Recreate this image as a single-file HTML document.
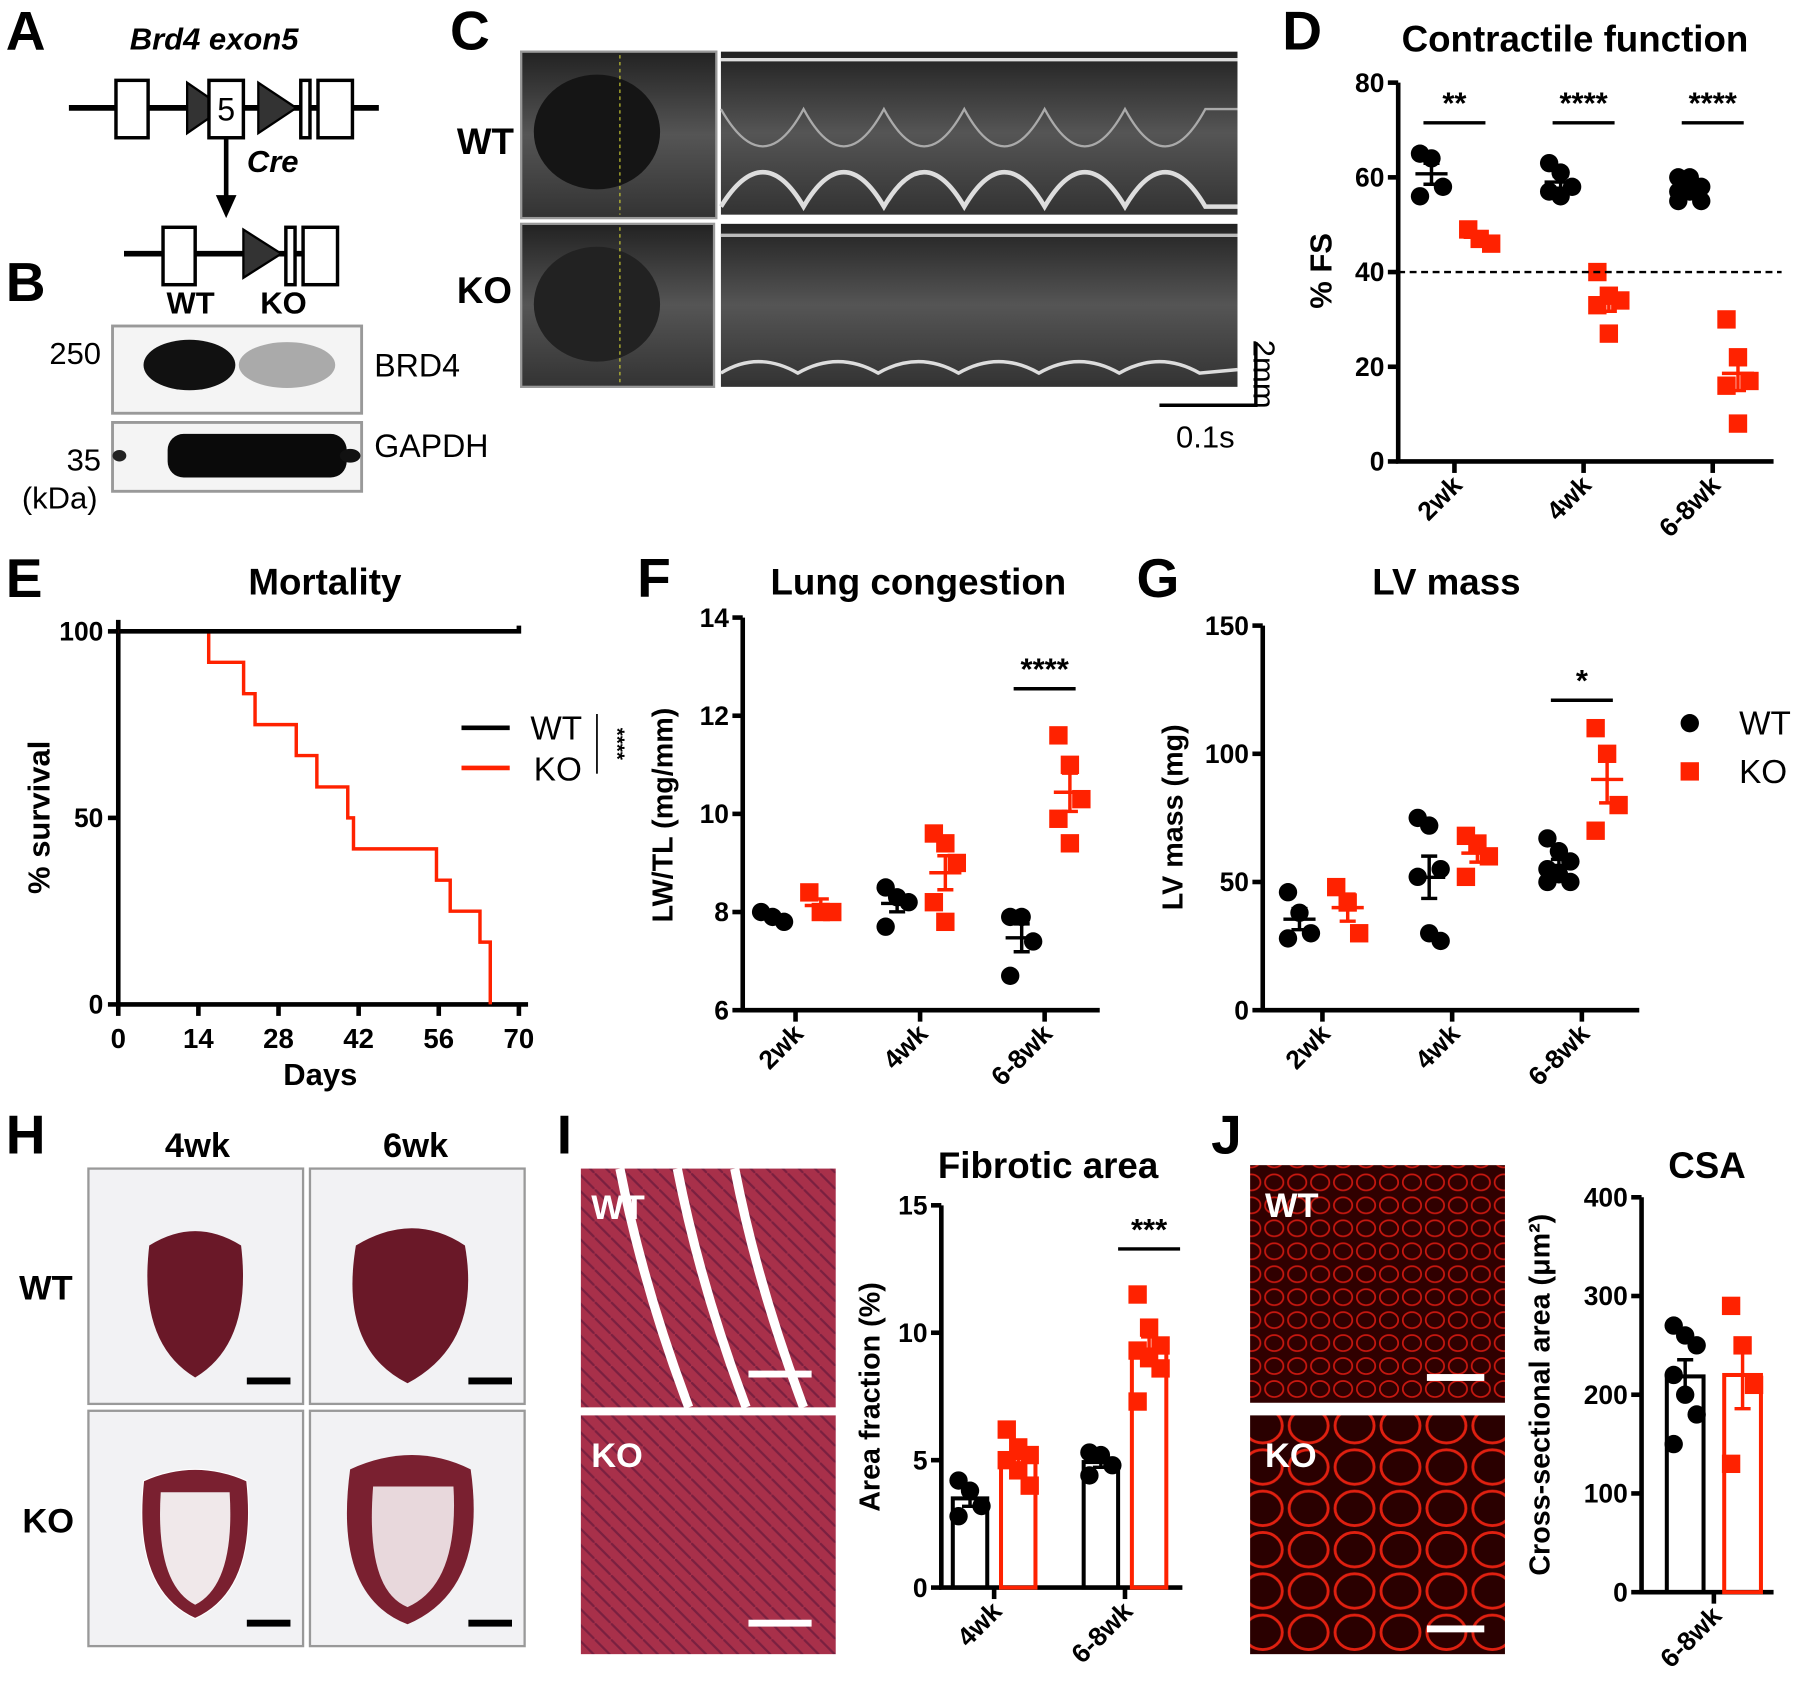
<!DOCTYPE html>
<html><head><meta charset="utf-8"><style>
html,body{margin:0;padding:0;background:#fff}
svg{display:block}
text{font-family:"Liberation Sans",Arial,sans-serif}
.b{font-weight:bold}
</style></head><body>
<svg id="fig" width="1800" height="1684" viewBox="0 0 1568 1467" xmlns="http://www.w3.org/2000/svg">
<defs>
<linearGradient id="echo" x1="0" y1="0" x2="0" y2="1"><stop offset="0" stop-color="#222"/><stop offset="0.5" stop-color="#555"/><stop offset="1" stop-color="#333"/></linearGradient>
<pattern id="musc" width="14" height="14" patternUnits="userSpaceOnUse"><rect width="14" height="14" fill="#a8304a"/><path d="M0 0 L14 14" stroke="#7a2040" stroke-width="2"/></pattern>
<pattern id="cells" width="40" height="36" patternUnits="userSpaceOnUse"><rect width="40" height="36" fill="#2a0000"/><ellipse cx="20" cy="18" rx="17" ry="15" fill="none" stroke="#e02010" stroke-width="2.5"/></pattern>
<pattern id="cells2" width="20" height="20" patternUnits="userSpaceOnUse"><rect width="20" height="20" fill="#300000"/><ellipse cx="10" cy="10" rx="8" ry="7" fill="none" stroke="#c81810" stroke-width="1.5"/></pattern>
</defs>

<!-- Panel A -->
<g>
<text x="5" y="43" font-size="48" class="b">A</text>
<text x="113" y="43" font-size="27" class="b" font-style="italic">Brd4 exon5</text>
<line x1="60" y1="94" x2="330" y2="94" stroke="#000" stroke-width="5"/>
<rect x="101" y="70" width="28" height="50" fill="#fff" stroke="#000" stroke-width="3"/>
<polygon points="163,72 195,94 163,116" fill="#333" stroke="#000" stroke-width="2"/>
<rect x="182" y="70" width="30" height="50" fill="#fff" stroke="#000" stroke-width="3"/>
<text x="197" y="105" font-size="28" text-anchor="middle">5</text>
<polygon points="225,72 258,94 225,116" fill="#333" stroke="#000" stroke-width="2"/>
<rect x="262" y="70" width="8" height="50" fill="#fff" stroke="#000" stroke-width="3"/>
<rect x="277" y="70" width="30" height="50" fill="#fff" stroke="#000" stroke-width="3"/>
<line x1="197" y1="120" x2="197" y2="175" stroke="#000" stroke-width="4"/>
<polygon points="188,170 206,170 197,190" fill="#000"/>
<text x="215" y="150" font-size="27" class="b" font-style="italic">Cre</text>
<line x1="108" y1="221" x2="292" y2="221" stroke="#000" stroke-width="5"/>
<rect x="142" y="198" width="28" height="50" fill="#fff" stroke="#000" stroke-width="3"/>
<polygon points="212,200 245,221 212,242" fill="#333" stroke="#000" stroke-width="2"/>
<rect x="249" y="198" width="8" height="50" fill="#fff" stroke="#000" stroke-width="3"/>
<rect x="264" y="198" width="30" height="50" fill="#fff" stroke="#000" stroke-width="3"/>
</g>

<!-- Panel B -->
<g>
<text x="5" y="262" font-size="48" class="b">B</text>
<text x="166" y="273" font-size="27" class="b" text-anchor="middle">WT</text>
<text x="247" y="273" font-size="27" class="b" text-anchor="middle">KO</text>
<rect x="98" y="284" width="217" height="76" fill="#f4f4f4" stroke="#999" stroke-width="2.5"/>
<ellipse cx="165" cy="318" rx="40" ry="22" fill="#111"/>
<ellipse cx="250" cy="318" rx="42" ry="20" fill="#aaa"/>
<rect x="98" y="368" width="217" height="60" fill="#f4f4f4" stroke="#999" stroke-width="2.5"/>
<rect x="146" y="378" width="156" height="38" rx="14" fill="#0a0a0a"/>
<ellipse cx="305" cy="397" rx="9" ry="6" fill="#111"/>
<ellipse cx="104" cy="397" rx="6" ry="5" fill="#222"/>
<text x="88" y="317" font-size="27" text-anchor="end">250</text>
<text x="88" y="410" font-size="27" text-anchor="end">35</text>
<text x="52" y="443" font-size="27" text-anchor="middle">(kDa)</text>
<text x="326" y="328" font-size="28">BRD4</text>
<text x="326" y="398" font-size="28">GAPDH</text>
</g>

<!-- Panel C -->
<g>
<text x="392" y="43" font-size="48" class="b">C</text>
<text x="398" y="134" font-size="32" class="b">WT</text>
<text x="398" y="264" font-size="32" class="b">KO</text>
<rect x="454" y="45" width="170" height="145" fill="url(#echo)" stroke="#999" stroke-width="2"/>
<rect x="628" y="45" width="450" height="142" fill="url(#echo)"/>
<rect x="454" y="195" width="168" height="142" fill="url(#echo)" stroke="#999" stroke-width="2"/>
<rect x="628" y="195" width="450" height="142" fill="url(#echo)"/>
<ellipse cx="520" cy="115" rx="55" ry="50" fill="#151515"/>
<ellipse cx="520" cy="265" rx="55" ry="50" fill="#222"/>
<line x1="540" y1="48" x2="540" y2="187" stroke="#cc3" stroke-width="1" stroke-dasharray="3,3"/>
<line x1="540" y1="198" x2="540" y2="335" stroke="#cc3" stroke-width="1" stroke-dasharray="3,3"/>
<path d="M628 180 Q 665 120 700 180 Q 735 120 770 180 Q 805 120 840 180 Q 875 120 910 180 Q 945 120 980 180 Q 1015 120 1050 180 L1078 180" fill="none" stroke="#ddd" stroke-width="4"/>
<path d="M628 95 Q 665 160 700 95 Q 735 160 770 95 Q 805 160 840 95 Q 875 160 910 95 Q 945 160 980 95 Q 1015 160 1050 95 L1078 95" fill="none" stroke="#aaa" stroke-width="2"/>
<line x1="628" y1="52" x2="1078" y2="52" stroke="#ddd" stroke-width="3"/>
<path d="M628 325 Q 660 305 695 325 Q 730 305 765 325 Q 800 305 835 325 Q 870 305 905 325 Q 940 305 975 325 Q 1010 305 1045 325 L1078 322" fill="none" stroke="#ddd" stroke-width="3"/>
<line x1="628" y1="205" x2="1078" y2="205" stroke="#bbb" stroke-width="3"/>
<path d="M1010 353 L1094 353 L1094 298" fill="none" stroke="#000" stroke-width="3"/>
<text x="1050" y="390" font-size="27" text-anchor="middle">0.1s</text>
<text x="1100" y="326" font-size="27" transform="rotate(90 1100 326)" text-anchor="middle" dy="8">2mm</text>
</g>

<!-- Panel E -->
<g id="panelE">
<text x="5" y="520" font-size="48" class="b">E</text>
<text x="283" y="518" font-size="32" class="b" text-anchor="middle">Mortality</text>
<text transform="translate(43 712) rotate(-90)" font-size="27" class="b" text-anchor="middle">% survival</text>
<text x="279" y="945" font-size="27" class="b" text-anchor="middle">Days</text>
</g>

<g id="panelD">
<text x="1117" y="43" font-size="48" class="b">D</text>
<text x="1372" y="45" font-size="32" class="b" text-anchor="middle">Contractile function</text>
<text transform="translate(1160 236) rotate(-90)" font-size="27" class="b" text-anchor="middle">% FS</text>
</g>
<g id="panelF">
<text x="555" y="520" font-size="48" class="b">F</text>
<text x="800" y="518" font-size="32" class="b" text-anchor="middle">Lung congestion</text>
<text transform="translate(586 710) rotate(-90)" font-size="25" class="b" text-anchor="middle">LW/TL (mg/mm)</text>
</g>
<g id="panelG">
<text x="990" y="520" font-size="48" class="b">G</text>
<text x="1260" y="518" font-size="32" class="b" text-anchor="middle">LV mass</text>
<text transform="translate(1030 712) rotate(-90)" font-size="25" class="b" text-anchor="middle">LV mass (mg)</text>
<circle cx="1472" cy="630" r="8" fill="#000"/>
<text x="1515" y="640" font-size="29">WT</text>
<rect x="1464" y="664" width="16" height="16" fill="#ff2200"/>
<text x="1515" y="682" font-size="29">KO</text>
</g>

<!-- Panel H -->
<g>
<text x="5" y="1005" font-size="48" class="b">H</text>
<text x="172" y="1008" font-size="30" class="b" text-anchor="middle">4wk</text>
<text x="362" y="1008" font-size="30" class="b" text-anchor="middle">6wk</text>
<text x="40" y="1132" font-size="30" class="b" text-anchor="middle">WT</text>
<text x="42" y="1335" font-size="30" class="b" text-anchor="middle">KO</text>
<rect x="77" y="1018" width="187" height="205" fill="#f2f2f4" stroke="#999" stroke-width="2"/>
<rect x="270" y="1018" width="187" height="205" fill="#f2f2f4" stroke="#999" stroke-width="2"/>
<rect x="77" y="1229" width="187" height="205" fill="#f2f2f4" stroke="#999" stroke-width="2"/>
<rect x="270" y="1229" width="187" height="205" fill="#f2f2f4" stroke="#999" stroke-width="2"/>
<path d="M130 1085 Q120 1170 170 1200 Q220 1170 210 1085 Q170 1060 130 1085Z" fill="#6a1828"/>
<path d="M310 1085 Q295 1175 355 1205 Q420 1170 405 1085 Q360 1055 310 1085Z" fill="#6a1828"/>
<path d="M125 1290 Q115 1385 170 1410 Q225 1385 215 1290 Q170 1270 125 1290Z" fill="#7a2030" stroke="#fff" stroke-width="1"/>
<path d="M140 1300 Q135 1380 170 1398 Q205 1380 200 1300Z" fill="#f0e8ea"/>
<path d="M305 1280 Q290 1390 355 1415 Q425 1385 410 1280 Q360 1255 305 1280Z" fill="#7a2030"/>
<path d="M325 1295 Q318 1385 355 1400 Q400 1380 395 1295Z" fill="#e8d8dc"/>
<rect x="215" y="1200" width="38" height="6" fill="#000"/><rect x="408" y="1200" width="38" height="6" fill="#000"/>
<rect x="215" y="1411" width="38" height="6" fill="#000"/><rect x="408" y="1411" width="38" height="6" fill="#000"/>
</g>

<!-- Panel I images -->
<g>
<text x="485" y="1005" font-size="48" class="b">I</text>
<rect x="506" y="1018" width="222" height="208" fill="url(#musc)"/>
<path d="M540 1018 Q560 1120 600 1226 M590 1018 Q610 1120 650 1226 M640 1018 Q660 1120 700 1226" stroke="#fff" stroke-width="8" fill="none"/>
<rect x="506" y="1233" width="222" height="208" fill="url(#musc)"/>
<text x="515" y="1062" font-size="30" class="b" fill="#fff">WT</text>
<text x="515" y="1278" font-size="30" class="b" fill="#fff">KO</text>
<rect x="652" y="1194" width="55" height="6" fill="#fff"/><rect x="652" y="1411" width="55" height="6" fill="#fff"/>
</g>
<g id="panelI">
<text x="913" y="1026" font-size="32" class="b" text-anchor="middle">Fibrotic area</text>
<text transform="translate(766 1217) rotate(-90)" font-size="25" class="b" text-anchor="middle">Area fraction (%)</text>
</g>

<!-- Panel J -->
<g>
<text x="1055" y="1005" font-size="48" class="b">J</text>
<rect x="1089" y="1015" width="222" height="207" fill="url(#cells2)"/>
<rect x="1089" y="1233" width="222" height="208" fill="url(#cells)"/>
<text x="1102" y="1060" font-size="30" class="b" fill="#fff">WT</text>
<text x="1102" y="1278" font-size="30" class="b" fill="#fff">KO</text>
<rect x="1243" y="1197" width="50" height="6" fill="#fff"/><rect x="1243" y="1416" width="50" height="6" fill="#fff"/>
</g>
<g id="panelJ">
<text x="1487" y="1026" font-size="32" class="b" text-anchor="middle">CSA</text>
<text transform="translate(1350 1215) rotate(-90)" font-size="25" class="b" text-anchor="middle">Cross-sectional area (μm²)</text>
</g>
</svg>
<script>
const NS='http://www.w3.org/2000/svg';
// ---- data ----
const groupsDFG=['2wk','4wk','6-8wk'];
const fsWT=[[65,64,58,56],[63,61,58,57,56],[60,60,58,57,57,55,55]];
const fsKO=[[49,47,46],[40,35,34,33,27],[30,22,17,16,8]];
const lwWT=[[8.0,7.9,7.8],[8.5,8.3,8.2,7.7],[7.9,7.9,7.4,6.7]];
const lwKO=[[8.4,8.0,8.0],[9.6,9.4,9.0,8.2,7.8],[11.6,11.0,10.3,9.9,9.4]];
const lvWT=[[46,38,30,28],[75,72,55,52,30,27],[67,62,58,55,53,50,50]];
const lvKO=[[48,42,30],[68,65,60,52],[110,100,80,70]];
const groupsI=['4wk','6-8wk'];
const fibWT=[[4.2,3.8,3.2,2.8],[5.3,5.2,4.8,4.4]];
const fibKO=[[6.2,5.5,5.2,5.0,4.6,4.0],[11.5,10.2,9.5,9.3,9.0,8.6,7.3]];
const groupsJ=['6-8wk'];
const csaWT=[[270,260,250,220,200,180,150]];
const csaKO=[[290,250,210,130]];
const survDays=[0,15.8,21.9,23.9,31.1,34.7,40.1,41.1,55.6,58,63.2,65];
const survKO=[100,91.7,83.3,75,66.7,58.3,50,41.7,33.3,25,16.7,0];
const survWT=[100,100];
const survWTDays=[0,70];
const ticksD=[0,20,40,60,80], ticksF=[6,8,10,12,14], ticksG=[0,50,100,150], ticksI=[0,5,10,15], ticksJ=[0,100,200,300,400], ticksE=[0,50,100], ticksEx=[0,14,28,42,56,70];
const starsD=['**','****','****'], starsF=['','','****'], starsG=['','','*'], starsI=['','***'];

function el(parent,tag,attrs,txt){const e=document.createElementNS(NS,tag);for(const k in attrs)e.setAttribute(k,attrs[k]);if(txt!==undefined)e.textContent=txt;parent.appendChild(e);return e;}
const mean=a=>a.reduce((s,v)=>s+v,0)/a.length;
const sem=a=>{const m=mean(a);return Math.sqrt(a.reduce((s,v)=>s+(v-m)**2,0)/(a.length-1))/Math.sqrt(a.length);};

function axes(g,c){
  const y=v=>c.y0+(v-c.min)/(c.max-c.min)*(c.y1-c.y0);
  const ax=el(g,'path',{d:`M${c.ax} ${c.y1} L${c.ax} ${c.y0} L${c.xend} ${c.y0}`,fill:'none',stroke:'#000','stroke-width':4});
  
  
  c.ticks.forEach(t=>{
    el(g,'line',{x1:c.ax-9,x2:c.ax,y1:y(t),y2:y(t),stroke:'#000','stroke-width':4});
    const tl=el(g,'text',{x:c.ax-12,y:y(t)+8,'font-size':23,'font-weight':'bold','text-anchor':'end'},t);
    
    
  });
  c.groups.forEach((gn,i)=>{
    const x=c.gx(i);
    el(g,'line',{x1:x,x2:x,y1:c.y0,y2:c.y0+10,stroke:'#000','stroke-width':4});
    const tl=el(g,'text',{transform:`translate(${x+8} ${c.y0+22}) rotate(-45)`,'font-size':23,'font-weight':'bold','text-anchor':'end'},gn);
    
    
  });
  return y;
}
function pts(g,vals,x,y,type,color,name){
  vals.forEach((v,j)=>{
    const dx=((j%3)-1)*10;
    let m;
    if(type==='c') m=el(g,'circle',{cx:x+dx,cy:y(v),r:8,fill:color});
    else m=el(g,'rect',{x:x+dx-8,y:y(v)-8,width:16,height:16,fill:color});
    
    
  });
  const m=mean(vals),s=sem(vals);
  el(g,'line',{x1:x-14,x2:x+14,y1:y(m),y2:y(m),stroke:color==='#000'?'#000':'#ff2200','stroke-width':3});
  el(g,'path',{d:`M${x-7} ${y(m-s)} L${x+7} ${y(m-s)} M${x} ${y(m-s)} L${x} ${y(m+s)} M${x-7} ${y(m+s)} L${x+7} ${y(m+s)}`,stroke:color,'stroke-width':3,fill:'none'});
}
function stars(g,list,gx,yv,off){
  list.forEach((s,i)=>{ if(!s)return; const x=gx(i)+off;
    el(g,'line',{x1:x-27,x2:x+27,y1:yv,y2:yv,stroke:'#000','stroke-width':3});
    const t=el(g,'text',{x:x,y:yv-8,'font-size':27,'font-weight':'bold','text-anchor':'middle'},s);
    
    
  });
}
function scatterPanel(id,c,wt,ko,st,starY){
  const g=document.getElementById(id); const y=axes(g,c);
  c.groups.forEach((gn,i)=>{ const x=c.gx(i);
    pts(g,wt[i],x-20,y,'c','#000','wt-point');
    pts(g,ko[i],x+22,y,'s','#ff2200','ko-point');
  });
  stars(g,st,c.gx,starY,0);
}
scatterPanel('panelD',{ax:1218,y0:402,y1:72,min:0,max:80,xend:1545,ticks:ticksD,groups:groupsDFG,gx:i=>1267+i*112.5},fsWT,fsKO,starsD,107);
(function(){const g=document.getElementById('panelD');const y=v=>402-v/80*330;
 const d=el(g,'line',{x1:1218,x2:1552,y1:y(40),y2:y(40),stroke:'#000','stroke-width':2,'stroke-dasharray':'6,4'});
 
 })();
scatterPanel('panelF',{ax:647,y0:880,y1:538,min:6,max:14,xend:958,ticks:ticksF,groups:groupsDFG,gx:i=>693+i*108.5},lwWT,lwKO,starsF,600);
scatterPanel('panelG',{ax:1100,y0:880,y1:545,min:0,max:150,xend:1428,ticks:ticksG,groups:groupsDFG,gx:i=>1152+i*113},lvWT,lvKO,starsG,610);

function barPanel(id,c,wt,ko,st,starY){
  const g=document.getElementById(id); const y=axes(g,c);
  c.groups.forEach((gn,i)=>{ const x=c.gx(i);
    [[wt[i],x-c.off,'#000','c'],[ko[i],x+c.off,'#ff2200','s']].forEach(([v,bx,col,t])=>{
      const b=el(g,'rect',{x:bx-c.bw/2,y:y(mean(v)),width:c.bw,height:c.y0-y(mean(v)),fill:'none',stroke:col,'stroke-width':3.5});
      
      
      pts(g,v,bx,y,t,col,t==='c'?'wt-point':'ko-point');
    });
  });
  stars(g,st,c.gx,starY,c.off);
}
barPanel('panelI',{ax:820,y0:1383,y1:1050,min:0,max:15,xend:1030,ticks:ticksI,groups:groupsI,gx:i=>866+i*114,off:21,bw:30},fibWT,fibKO,starsI,1088);
barPanel('panelJ',{ax:1430,y0:1387,y1:1043,min:0,max:400,xend:1545,ticks:ticksJ,groups:groupsJ,gx:i=>1493,off:25,bw:32},csaWT,csaKO,[''],0);

// survival
(function(){
 const g=document.getElementById('panelE');
 const x=d=>103+d/70*349, y=v=>875-v/100*325;
 el(g,'path',{d:`M103 540 L103 875 L460 875`,fill:'none',stroke:'#000','stroke-width':4});
 ticksE.forEach(t=>{el(g,'line',{x1:94,x2:103,y1:y(t),y2:y(t),stroke:'#000','stroke-width':4});
  const tl=el(g,'text',{x:90,y:y(t)+8,'font-size':23,'font-weight':'bold','text-anchor':'end'},t);
  
  });
 ticksEx.forEach(t=>{el(g,'line',{x1:x(t),x2:x(t),y1:875,y2:885,stroke:'#000','stroke-width':4});
  const tl=el(g,'text',{x:x(t),y:913,'font-size':24,'font-weight':'bold','text-anchor':'middle'},t);
  
  });
 let d=`M${x(survDays[0])} ${y(survKO[0])}`;
 for(let i=1;i<survDays.length;i++) d+=` L${x(survDays[i])} ${y(survKO[i-1])} L${x(survDays[i])} ${y(survKO[i])}`;
 const ko=el(g,'path',{d:d,fill:'none',stroke:'#ff2200','stroke-width':3});
 
 
 const wt=el(g,'path',{d:`M${x(survWTDays[0])} ${y(survWT[0])} L${x(survWTDays[1])} ${y(survWT[1])} l0 -5`,fill:'none',stroke:'#000','stroke-width':4});
 
 
 el(g,'line',{x1:402,x2:444,y1:634,y2:634,stroke:'#000','stroke-width':4});
 el(g,'line',{x1:402,x2:444,y1:669,y2:669,stroke:'#ff2200','stroke-width':4});
 const l1=el(g,'text',{x:462,y:644,'font-size':29},'WT');
 
 
 const l2=el(g,'text',{x:465,y:680,'font-size':29},'KO');
 
 
 el(g,'line',{x1:520,x2:520,y1:622,y2:674,stroke:'#000','stroke-width':1.5});
 el(g,'text',{transform:'translate(532 648) rotate(90)','font-size':18,'font-weight':'bold','text-anchor':'middle'},'****');
})();
</script>
</body></html>
